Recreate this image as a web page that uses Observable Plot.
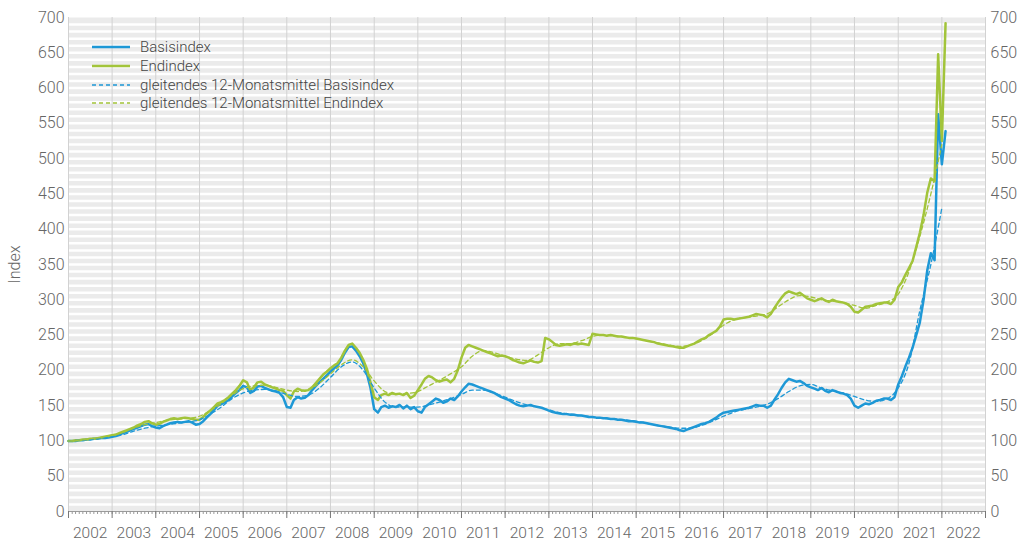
<!DOCTYPE html>
<html>
<head>
<meta charset="utf-8">
<script src="https://cdn.jsdelivr.net/npm/d3@7"></script>
<script src="https://cdn.jsdelivr.net/npm/@observablehq/plot@0.6"></script>
<style>
  html, body { margin: 0; padding: 0; background: #fff; }
  #wrap { position: relative; width: 1023px; height: 551px; }
  #legend { position: absolute; left: 92px; top: 38px; font-family: Roboto, "Noto Sans", sans-serif; font-size: 15px; font-weight: 300; color: #444; }
  .item { display: flex; align-items: center; height: 18.7px; }
  .item svg { width: 40px; height: 10px; margin-right: 8px; }
</style>
</head>
<body>
<div id="wrap">
  <div id="chart"></div>
  <div id="legend"></div>
</div>
<script>
// ---- Data (monthly, starting January 2002) ----
const startYear = 2002;
const basisindex = [
  100,100,100,101,101,102,102,103,103,104,104,105, // 2002
  106,107,109,111,113,115,117,119,121,123,124,121, // 2003
  119,118,121,123,125,126,127,126,127,128,126,123, // 2004
  124,128,133,138,144,150,152,155,158,163,168,172, // 2005
  178,176,168,171,177,178,175,173,171,170,168,162, // 2006
  148,147,158,162,160,161,165,172,178,183,188,193, // 2007
  198,203,207,215,225,233,234,228,220,210,195,175, // 2008
  145,140,148,150,147,149,148,151,146,150,145,148, // 2009
  142,140,148,152,156,160,158,154,156,160,158,163, // 2010
  170,176,181,180,178,176,174,172,170,168,165,162, // 2011
  160,158,155,152,150,149,150,151,149,148,147,145, // 2012
  143,141,140,139,138,138,137,137,136,136,135,134, // 2013
  134,133,133,132,132,131,131,130,130,129,128,128, // 2014
  127,126,126,125,124,123,122,121,120,119,118,117, // 2015
  115,114,116,118,120,122,124,125,127,130,133,137, // 2016
  140,141,142,143,144,145,146,147,149,151,150,150, // 2017
  147,150,158,166,175,183,188,186,184,185,182,178, // 2018
  176,174,172,175,171,169,172,170,168,167,165,160, // 2019
  150,147,150,153,152,154,157,158,160,160,158,162, // 2020
  180,192,205,218,232,250,268,300,342,366,356,563, // 2021
  492,539                                          // 2022
];
const endindex = [
  100,100,101,101,102,102,103,103,104,105,106,107, // 2002
  108,109,111,113,115,117,119,122,124,127,128,125, // 2003
  123,124,127,129,131,132,131,132,133,132,131,130, // 2004
  130,134,139,143,148,153,155,158,162,167,172,178, // 2005
  186,183,172,176,183,184,180,178,176,174,172,171, // 2006
  165,160,170,174,172,171,172,176,182,188,194,198, // 2007
  203,207,210,218,228,236,238,232,225,215,202,183, // 2008
  162,158,165,167,165,168,166,167,165,168,161,164, // 2009
  172,180,188,192,190,186,184,186,187,183,188,200, // 2010
  218,232,236,234,232,230,228,226,224,222,220,221, // 2011
  220,218,215,213,211,210,212,214,212,211,213,246, // 2012
  244,240,236,235,236,237,236,238,237,238,237,236, // 2013
  252,251,250,250,249,250,249,248,248,247,246,246, // 2014
  245,244,243,242,241,240,238,237,236,235,234,233, // 2015
  232,232,234,236,238,241,244,246,250,253,256,262, // 2016
  272,273,273,272,273,274,275,276,278,280,279,278, // 2017
  275,280,288,296,303,309,312,310,308,310,306,302, // 2018
  300,298,300,302,299,297,300,298,297,296,294,290, // 2019
  283,282,286,290,291,292,294,295,296,296,294,300, // 2020
  318,325,335,345,355,375,395,420,452,472,468,648, // 2021
  525,692                                          // 2022
];
// 12-month moving averages, read quarterly (Jan, Apr, Jul, Oct)
const maBasisindex = [
  100,101,102,104, 106,109,114,118, 121,123,125,127, 130,138,148,160,
  168,172,173,171, 166,163,165,175, 190,205,212,200, 175,155,148,148,
  148,151,155,160, 166,172,172,168, 162,156,151,148, 144,140,138,136,
  134,132,131,130, 128,125,122,120, 118,118,122,128, 135,141,145,148,
  152,160,170,178, 180,175,171,168, 163,158,156,160, 175,210,285,350,
  430
];
const maEndindex = [
  100,101,103,105, 108,112,118,123, 126,129,131,132, 135,143,153,165,
  174,178,179,176, 172,170,173,182, 195,208,215,205, 185,170,166,167,
  170,178,186,195, 205,220,228,225, 220,216,214,222, 232,238,238,242,
  248,250,249,247, 245,242,239,236, 234,236,242,252, 264,272,275,277,
  280,290,300,306, 304,300,298,296, 292,288,292,297, 308,340,390,450,
  520
];
const yearLabels = ["2002","2003","2004","2005","2006","2007","2008","2009","2010","2011","2012","2013","2014","2015","2016","2017","2018","2019","2020","2021","2022"];
const yTicks = [0,50,100,150,200,250,300,350,400,450,500,550,600,650,700];
const seriesNames = ["Basisindex","Endindex","gleitendes 12-Monatsmittel Basisindex","gleitendes 12-Monatsmittel Endindex"];
const colors = { basis: "#1e98d6", end: "#a2c43a" };

// ---- Build tables ----
const monthly = (arr) => arr.map((v, i) => ({ date: new Date(Date.UTC(startYear, i, 1)), v }));
const quarterly = (arr) => arr.map((v, i) => ({ date: new Date(Date.UTC(startYear, i * 3, 1)), v }));
const B = monthly(basisindex), E = monthly(endindex);
const MB = quarterly(maBasisindex), ME = quarterly(maEndindex);
const x0 = new Date(Date.UTC(startYear, 0, 1));
const x1 = new Date(Date.UTC(startYear + yearLabels.length, 0, 1));
const yearStarts = d3.utcYear.range(x0, new Date(+x1 + 1));
const midYears = yearLabels.map((_, i) => new Date(Date.UTC(startYear + i, 6, 1)));
const months = d3.utcMonth.range(x0, new Date(+x1 + 1));
const gridY = d3.range(10, 700, 10);

const chart = Plot.plot({
  width: 1023,
  height: 551,
  marginLeft: 68,
  marginRight: 38,
  marginTop: 17,
  marginBottom: 40,
  style: { fontFamily: "Roboto, 'Noto Sans', sans-serif", color: "#666", background: "#fff" },
  x: { type: "utc", domain: [x0, x1] },
  y: { domain: [0, 700] },
  marks: [
    Plot.frame({ fill: "#ebebeb", stroke: null }),
    Plot.ruleY(gridY, { stroke: "#fff", strokeWidth: 2.5 }),
    Plot.ruleX(yearStarts, { stroke: "#d2d2d2", strokeWidth: 1 }),
    Plot.ruleY([0], { stroke: "#9a9a9a", strokeWidth: 1 }),
    Plot.axisX({ ticks: months, tickSize: 3, tickFormat: () => "", label: null, stroke: "#999" }),
    Plot.axisX({ ticks: yearStarts, tickSize: 7, tickFormat: () => "", label: null, stroke: "#777" }),
    Plot.axisX({ ticks: midYears, tickSize: 0, tickPadding: 15, tickFormat: d => yearLabels[d.getUTCFullYear() - startYear], label: null, fontSize: 15.5, fontWeight: 300 }),
    Plot.axisY({ anchor: "left", ticks: yTicks, tickSize: 0, tickPadding: 4, label: "Index", labelAnchor: "center", labelArrow: "none", labelOffset: 60, fontSize: 16, fontWeight: 300 }),
    Plot.axisY({ anchor: "right", ticks: yTicks, tickSize: 0, tickPadding: 5, label: null, fontSize: 16, fontWeight: 300 }),
    Plot.line(B, { x: "date", y: "v", stroke: colors.basis, strokeWidth: 2.5 }),
    Plot.line(E, { x: "date", y: "v", stroke: colors.end, strokeWidth: 2.5 }),
    Plot.line(MB, { x: "date", y: "v", stroke: colors.basis, strokeWidth: 1.3, strokeDasharray: "4,3", curve: "monotone-x" }),
    Plot.line(ME, { x: "date", y: "v", stroke: colors.end, strokeWidth: 1.3, strokeDasharray: "4,3", curve: "monotone-x" })
  ]
});
document.getElementById("chart").appendChild(chart);

// ---- Legend ----
const legendSpec = [
  { name: seriesNames[0], color: colors.basis, dash: null, w: 2.5 },
  { name: seriesNames[1], color: colors.end, dash: null, w: 2.5 },
  { name: seriesNames[2], color: colors.basis, dash: "4,3", w: 1.3 },
  { name: seriesNames[3], color: colors.end, dash: "4,3", w: 1.3 }
];
const legend = d3.select("#legend");
legendSpec.forEach(s => {
  const it = legend.append("div").attr("class", "item");
  const sv = it.append("svg");
  sv.append("line").attr("x1", 0).attr("x2", 38).attr("y1", 5).attr("y2", 5)
    .attr("stroke", s.color).attr("stroke-width", s.w).attr("stroke-dasharray", s.dash);
  it.append("span").text(s.name);
});
</script>
</body>
</html>
